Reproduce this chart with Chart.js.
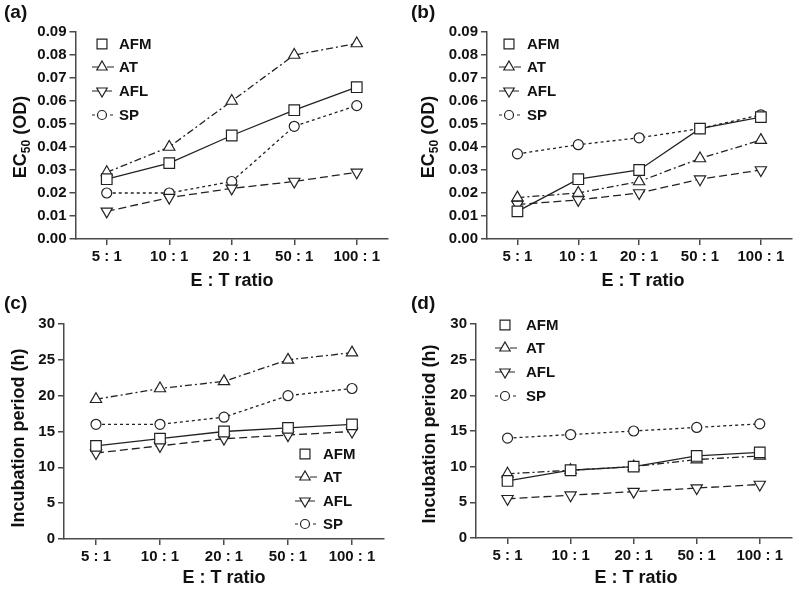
<!DOCTYPE html>
<html>
<head>
<meta charset="utf-8">
<script src="https://cdn.jsdelivr.net/npm/chart.js@4/dist/chart.umd.min.js"></script>
<style>
  html, body { margin: 0; padding: 0; background: #fff; }
  #wrap { position: relative; width: 800px; height: 589px; }
  #wrap canvas { position: absolute; left: 0; top: 0; }
  .ytitle {
    position: absolute;
    white-space: nowrap;
    font: bold 18px 'Liberation Sans', Arial, Helvetica, sans-serif;
    line-height: 18px;
    color: #111;
    transform: translate(-50%, -50%) rotate(-90deg);
  }
  .ytitle sub { font-size: 12px; line-height: 0; vertical-align: -4px; }
</style>
</head>
<body>
<div id="wrap">
  <canvas id="chartA" width="800" height="589"></canvas>
  <canvas id="chartB" width="800" height="589"></canvas>
  <canvas id="chartC" width="800" height="589"></canvas>
  <canvas id="chartD" width="800" height="589"></canvas>
  <div class="ytitle" style="left:20px; top:137px;">EC<sub>50</sub> (OD)</div>
  <div class="ytitle" style="left:428px; top:137px;">EC<sub>50</sub> (OD)</div>
  <div class="ytitle" style="left:18px; top:438px;">Incubation period (h)</div>
  <div class="ytitle" style="left:429px; top:434px;">Incubation period (h)</div>
</div>
<script>
// E:T ratio categories and series names
const categories = ["5 : 1", "10 : 1", "20 : 1", "50 : 1", "100 : 1"];
const seriesNames = ["AFM", "AT", "AFL", "SP"];

// (a) EC50
const ecA_AFM = [0.026, 0.033, 0.045, 0.056, 0.066];
const ecA_AT = [0.029, 0.040, 0.060, 0.080, 0.085];
const ecA_AFL = [0.012, 0.018, 0.022, 0.025, 0.029];
const ecA_SP = [0.020, 0.020, 0.025, 0.049, 0.058];

// (b) EC50
const ecB_AFM = [0.012, 0.026, 0.030, 0.048, 0.053];
const ecB_AT = [0.018, 0.020, 0.025, 0.035, 0.043];
const ecB_AFL = [0.015, 0.017, 0.020, 0.026, 0.030];
const ecB_SP = [0.037, 0.041, 0.044, 0.048, 0.054];

// (c) incubation period (h)
const incC_AFM = [13, 14, 15, 15.5, 16];
const incC_AT = [19.5, 21, 22, 25, 26];
const incC_AFL = [12, 13, 14, 14.5, 15];
const incC_SP = [16, 16, 17, 20, 21];

// (d) incubation period (h)
const incD_AFM = [8, 9.5, 10, 11.5, 12];
const incD_AT = [9, 9.5, 10, 11, 11.5];
const incD_AFL = [5.5, 6, 6.5, 7, 7.5];
const incD_SP = [14, 14.5, 15, 15.5, 16];

// y axis ranges
const ecRange = [0, 0.09, 0.01];
const incRange = [0, 30, 5];

const ink = "#222";
const axisInk = "#4a4a4a";
const fontFamily = "'Liberation Sans', Arial, Helvetica, sans-serif";

const styles = {
  AFM: { pointStyle: "rect", radius: 7.5, rotation: 0, dash: [], legendLine: false },
  AT: { pointStyle: "triangle", radius: 6.5, rotation: 0, dash: [7, 3, 2, 3], legendLine: true },
  AFL: { pointStyle: "triangle", radius: 6.5, rotation: 180, dash: [8, 4], legendLine: true },
  SP: { pointStyle: "circle", radius: 5, rotation: 0, dash: [3, 3], legendLine: true },
};

const panelDecor = {
  id: "panelDecor",
  afterDraw(chart, args, opts) {
    const ctx = chart.ctx;
    ctx.save();
    ctx.fillStyle = "#111";

    // panel letter
    ctx.font = "bold 19px " + fontFamily;
    ctx.textAlign = "left";
    ctx.textBaseline = "middle";
    ctx.fillText(opts.letter[0], opts.letter[1], opts.letter[2]);

    // x title
    ctx.font = "bold 18px " + fontFamily;
    ctx.textAlign = "center";
    ctx.fillText("E : T ratio", opts.xTitle[0], opts.xTitle[1]);

    // legend
    const lg = opts.legend;
    seriesNames.forEach((name, i) => {
      const st = styles[name];
      const y = lg.y[i];
      ctx.strokeStyle = ink;
      ctx.lineWidth = 1.2;
      if (st.legendLine) {
        ctx.setLineDash(st.dash);
        ctx.beginPath();
        ctx.moveTo(lg.x - 10, y);
        ctx.lineTo(lg.x + 13, y);
        ctx.stroke();
        ctx.setLineDash([]);
      }
      ctx.fillStyle = "#fff";
      Chart.helpers.drawPoint(ctx, {
        pointStyle: st.pointStyle,
        radius: st.radius - 0.5,
        rotation: st.rotation,
        borderWidth: 1.2,
      }, lg.x, y);
      ctx.fillStyle = "#111";
      ctx.font = "bold 15px " + fontFamily;
      ctx.textAlign = "left";
      ctx.textBaseline = "middle";
      ctx.fillText(name, lg.textX, y + 1);
    });
    ctx.restore();
  },
};

function makePanel(id, series, range, fmt, area, decor) {
  const datasets = seriesNames.map((name, k) => ({
    label: name,
    data: series[k],
    borderColor: ink,
    borderWidth: 1.3,
    borderDash: styles[name].dash,
    pointStyle: styles[name].pointStyle,
    pointRadius: styles[name].radius,
    pointRotation: styles[name].rotation,
    pointBackgroundColor: "#fff",
    pointBorderColor: ink,
    pointBorderWidth: 1.2,
    tension: 0,
    fill: false,
  }));

  const tickFont = { family: fontFamily, size: 15, weight: "bold" };

  return new Chart(document.getElementById(id), {
    type: "line",
    data: { labels: categories, datasets },
    options: {
      responsive: false,
      animation: false,
      clip: false,
      layout: {
        padding: {
          left: area.left - 60,
          right: 800 - area.right,
          top: area.top,
          bottom: 589 - area.bottom - 40,
        },
      },
      plugins: {
        legend: { display: false },
        tooltip: { enabled: false },
        panelDecor: decor,
      },
      scales: {
        x: {
          type: "category",
          offset: true,
          grid: { display: true, drawOnChartArea: false, tickLength: 6, color: axisInk, lineWidth: 1.5 },
          border: { display: true, color: axisInk, width: 1.5 },
          ticks: { color: "#111", font: tickFont, padding: 3, maxRotation: 0, autoSkip: false },
          afterFit(scale) { scale.height = 40; },
        },
        y: {
          min: range[0],
          max: range[1],
          grid: { display: true, drawOnChartArea: false, tickLength: 6, color: axisInk, lineWidth: 1.5 },
          border: { display: true, color: axisInk, width: 1.5 },
          ticks: { stepSize: range[2], color: "#111", font: tickFont, padding: 3, callback: fmt },
          afterFit(scale) { scale.width = 60; },
        },
      },
    },
    plugins: [panelDecor],
  });
}

const ecFmt = (v) => Number(v).toFixed(2);
const incFmt = (v) => String(Math.round(v));

makePanel("chartA", [ecA_AFM, ecA_AT, ecA_AFL, ecA_SP], ecRange, ecFmt,
  { left: 75.5, right: 388, top: 32, bottom: 239 },
  { letter: ["(a)", 4, 13], xTitle: [232, 281],
    legend: { x: 102, textX: 119, y: [44, 67, 91, 115] } });

makePanel("chartB", [ecB_AFM, ecB_AT, ecB_AFL, ecB_SP], ecRange, ecFmt,
  { left: 487, right: 799, top: 32, bottom: 239 },
  { letter: ["(b)", 411, 13], xTitle: [643, 281],
    legend: { x: 509, textX: 527, y: [44, 67, 91, 115] } });

makePanel("chartC", [incC_AFM, incC_AT, incC_AFL, incC_SP], incRange, incFmt,
  { left: 64, right: 384, top: 324, bottom: 539 },
  { letter: ["(c)", 4, 304], xTitle: [224, 578],
    legend: { x: 305, textX: 323, y: [454, 477, 501, 524] } });

makePanel("chartD", [incD_AFM, incD_AT, incD_AFL, incD_SP], incRange, incFmt,
  { left: 476, right: 796, top: 324, bottom: 538 },
  { letter: ["(d)", 411, 304], xTitle: [636, 578],
    legend: { x: 505, textX: 526, y: [325, 348, 372, 396] } });
</script>
</body>
</html>
